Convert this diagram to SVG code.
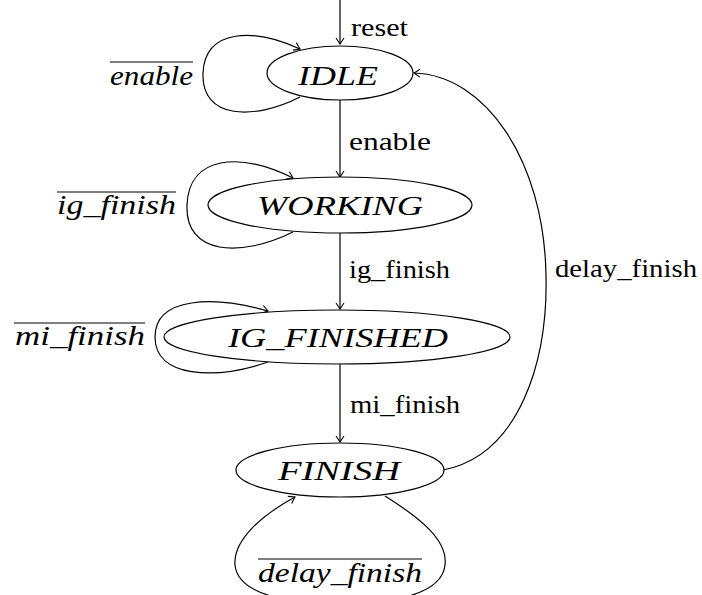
<svg xmlns="http://www.w3.org/2000/svg" width="702" height="595" viewBox="0 0 702 595">
  <style>
    .state { fill: #fff; stroke: #000; stroke-width: 1.2; }
    .edge { fill: none; stroke: #000; stroke-width: 1.2; marker-end: url(#arr); }
    .bar { stroke: #000; stroke-width: 1.2; }
  </style>
  <defs>
    <marker id="arr" viewBox="-7 -5 8 10" refX="0" refY="0" markerWidth="8" markerHeight="10" orient="auto" markerUnits="userSpaceOnUse">
      <path d="M -6 -4 Q -1.5 -1 0 0 Q -1.5 1 -6 4" fill="none" stroke="#000" stroke-width="1.1"/>
    </marker>
  </defs>

  <!-- transitions -->
  <g id="connectors">
    <path class="edge" d="M 340 0 L 340 44"/>
    <text x="351" y="36" font-family="Liberation Serif" font-size="26" textLength="57" lengthAdjust="spacingAndGlyphs">reset</text>

    <path class="edge" d="M 340 100 L 340 177"/>
    <text x="349" y="150" font-family="Liberation Serif" font-size="26" textLength="82" lengthAdjust="spacingAndGlyphs">enable</text>

    <path class="edge" d="M 340 233 L 340 309"/>
    <text x="349" y="278" font-family="Liberation Serif" font-size="26" textLength="101" lengthAdjust="spacingAndGlyphs">ig_finish</text>

    <path class="edge" d="M 340 364 L 340 442"/>
    <text x="350" y="413" font-family="Liberation Serif" font-size="26" textLength="110" lengthAdjust="spacingAndGlyphs">mi_finish</text>

    <path class="edge" d="M 443 470 C 520 455, 548 360, 546 275 C 544 160, 485 75, 414 73"/>
    <text x="555" y="277" font-family="Liberation Serif" font-size="26" textLength="142" lengthAdjust="spacingAndGlyphs">delay_finish</text>

    <!-- self loops -->
    <path class="edge" d="M 300 97 C 255 120, 201 120, 203 73 C 205 28, 255 28, 300 49"/>
    <path class="edge" d="M 293 232 C 240 258, 185 255, 187 205 C 189 155, 240 152, 293 178"/>
    <path class="edge" d="M 268 362 C 215 380, 155 378, 155 337 C 155 296, 215 296, 268 311"/>
    <path class="edge" d="M 385 496 C 420 518, 448 540, 445 565 C 442 595, 390 604, 340 604 C 290 604, 238 595, 235 565 C 233 540, 262 515, 295 497"/>

    <!-- negated conditions -->
    <line class="bar" x1="110" y1="62" x2="193" y2="62"/>
    <text x="110" y="85" font-family="Liberation Serif" font-style="italic" font-size="27" textLength="83" lengthAdjust="spacingAndGlyphs">enable</text>

    <line class="bar" x1="57" y1="192" x2="176" y2="192"/>
    <text x="57" y="214" font-family="Liberation Serif" font-style="italic" font-size="27" textLength="119" lengthAdjust="spacingAndGlyphs">ig_finish</text>

    <line class="bar" x1="14" y1="323" x2="145" y2="323"/>
    <text x="15" y="345" font-family="Liberation Serif" font-style="italic" font-size="27" textLength="130" lengthAdjust="spacingAndGlyphs">mi_finish</text>

    <line class="bar" x1="258" y1="559" x2="422" y2="559"/>
    <text x="258" y="582" font-family="Liberation Serif" font-style="italic" font-size="27" textLength="164" lengthAdjust="spacingAndGlyphs">delay_finish</text>
  </g>

  <g id="IDLE">
    <ellipse class="state" cx="340" cy="73" rx="73" ry="27"/>
    <text x="298" y="85" font-family="Liberation Serif" font-style="italic" font-size="27" textLength="80" lengthAdjust="spacingAndGlyphs">IDLE</text>
  </g>
  <g id="WORKING">
    <ellipse class="state" cx="340" cy="205" rx="132" ry="28"/>
    <text x="257" y="215" font-family="Liberation Serif" font-style="italic" font-size="27" textLength="166" lengthAdjust="spacingAndGlyphs">WORKING</text>
  </g>
  <g id="IG_FINISHED">
    <ellipse class="state" cx="337" cy="337" rx="173" ry="27"/>
    <text x="228" y="347" font-family="Liberation Serif" font-style="italic" font-size="27" textLength="220" lengthAdjust="spacingAndGlyphs">IG_FINISHED</text>
  </g>
  <g id="FINISH">
    <ellipse class="state" cx="340" cy="470" rx="104" ry="27"/>
    <text x="278" y="480" font-family="Liberation Serif" font-style="italic" font-size="27" textLength="122" lengthAdjust="spacingAndGlyphs">FINISH</text>
  </g>
</svg>
